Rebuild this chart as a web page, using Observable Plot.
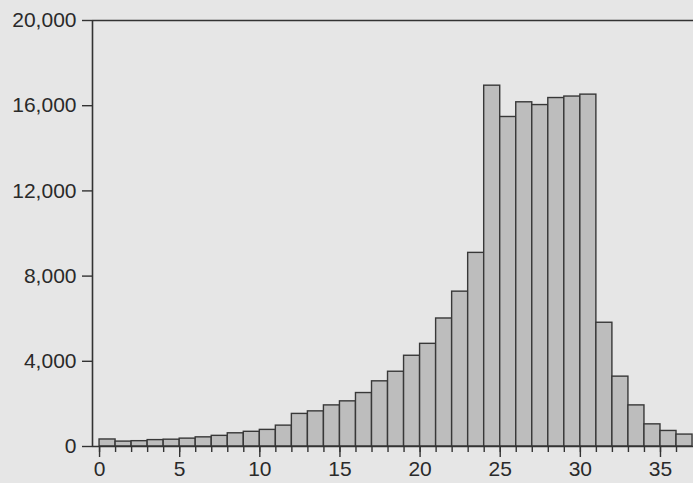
<!DOCTYPE html>
<html>
<head>
<meta charset="utf-8">
<script src="https://cdn.jsdelivr.net/npm/d3@7"></script>
<script src="https://cdn.jsdelivr.net/npm/@observablehq/plot@0.6"></script>
<style>
  html, body { margin: 0; padding: 0; background: #e6e6e6; }
  #chart svg { display: block; }
</style>
</head>
<body>
<div id="chart"></div>
<script>
// Bin starts (bins of width 1)
const binStarts = [0,1,2,3,4,5,6,7,8,9,10,11,12,13,14,15,16,17,18,19,20,21,22,23,24,25,26,27,28,29,30,31,32,33,34,35,36];
// Counts per bin
const counts = [330,230,250,300,320,370,430,500,620,690,780,980,1530,1650,1930,2120,2510,3060,3510,4260,4820,6010,7270,9090,16940,15470,16160,16030,16360,16430,16520,5810,3280,1930,1040,730,560];
// Tick labels
const yTicks = [0,4000,8000,12000,16000,20000];
const xMajorTicks = [0,5,10,15,20,25,30,35];
const xMinorTicks = d3.range(0, 37);

const data = binStarts.map((b, i) => ({x1: b, x2: b + 1, count: counts[i]}));
const xDomain = [-0.44, 37.06];

const chart = Plot.plot({
  width: 693,
  height: 483,
  marginLeft: 92,
  marginRight: 0,
  marginTop: 20,
  marginBottom: 37,
  style: {background: "#e6e6e6", fontFamily: "'Liberation Sans', Arial, sans-serif", fontSize: "21px", color: "#2a2a2a"},
  x: {domain: xDomain},
  y: {domain: [0, 20000]},
  marks: [
    Plot.rect(data, {x1: "x1", x2: "x2", y1: 0, y2: "count", fill: "#bdbdbd", stroke: "#383838", strokeWidth: 1.4}),
    Plot.ruleY([0, 20000], {stroke: "#333", strokeWidth: 1.6}),
    Plot.ruleX([xDomain[0]], {stroke: "#333", strokeWidth: 1.6}),
    Plot.axisY({ticks: yTicks, tickSize: 10, tickPadding: 6, tickFormat: d3.format(","), label: null, stroke: "#333", strokeWidth: 1.4, fill: "#2a2a2a"}),
    Plot.axisX({ticks: xMinorTicks, tickSize: 6, tickFormat: () => "", label: null, stroke: "#333", strokeWidth: 1.4}),
    Plot.axisX({ticks: xMajorTicks, tickSize: 11, tickPadding: 4, tickFormat: d3.format("d"), label: null, stroke: "#333", strokeWidth: 1.4, fill: "#2a2a2a"})
  ]
});
document.getElementById("chart").appendChild(chart);
</script>
</body>
</html>
